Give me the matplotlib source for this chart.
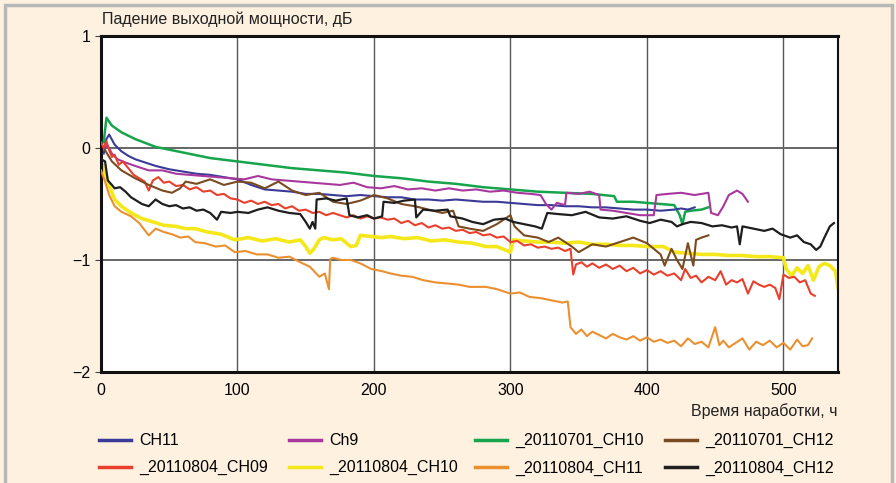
import matplotlib
matplotlib.use("Agg")
import matplotlib.pyplot as plt
from matplotlib.patches import Rectangle

plt.rcParams['font.family'] = ['Liberation Sans', 'DejaVu Sans']

# operating time (h) and output power drop (dB)
ch11_x = [2, 4, 6, 10, 15, 20, 25, 30, 40, 50, 60, 70, 80, 90, 100, 110, 120, 130, 140,
          150, 160, 170, 180, 190, 200, 210, 220, 230, 240, 250, 260, 270, 280, 290, 300,
          310, 320, 330, 340, 350, 360, 370, 380, 390, 400, 410, 420, 425, 430, 435]
ch11_y = [-0.05, 0.08, 0.12, 0.03, -0.03, -0.07, -0.1, -0.12, -0.16, -0.19, -0.21, -0.23,
          -0.24, -0.26, -0.28, -0.33, -0.37, -0.38, -0.39, -0.41, -0.41, -0.42, -0.43, -0.42,
          -0.43, -0.44, -0.44, -0.46, -0.46, -0.47, -0.46, -0.47, -0.48, -0.48, -0.49, -0.5,
          -0.51, -0.51, -0.52, -0.52, -0.53, -0.53, -0.54, -0.55, -0.55, -0.56, -0.55, -0.54,
          -0.55, -0.53]

ch9_x = [2, 5, 8, 12, 18, 25, 35, 45, 55, 65, 75, 85, 95, 105, 115, 125, 135, 145, 155,
         165, 175, 185, 195, 205, 215, 225, 235, 245, 255, 265, 275, 285, 295, 305, 315,
         322, 326, 330, 334, 340, 341, 350, 358, 365, 366, 375, 385, 395, 405, 407, 415,
         425, 435, 445, 447, 452, 456, 460, 466, 470, 474]
ch9_y = [0.0, 0.02, -0.05, -0.1, -0.13, -0.16, -0.2, -0.2, -0.23, -0.24, -0.25, -0.26,
         -0.27, -0.28, -0.25, -0.28, -0.29, -0.3, -0.31, -0.32, -0.33, -0.31, -0.35, -0.36,
         -0.34, -0.37, -0.36, -0.38, -0.36, -0.38, -0.37, -0.39, -0.38, -0.4, -0.41, -0.42,
         -0.5, -0.55, -0.49, -0.51, -0.4, -0.41, -0.39, -0.42, -0.55, -0.56, -0.58, -0.6,
         -0.6, -0.42, -0.41, -0.4, -0.42, -0.4, -0.58, -0.6, -0.52, -0.42, -0.38, -0.41, -0.48]

g0701_10_x = [2, 4, 8, 15, 25, 40, 60, 80, 100, 120, 140, 160, 180, 200, 220, 240, 260,
              280, 300, 320, 340, 360, 376, 378, 390, 400, 410, 420, 424, 426, 428, 432,
              440, 445]
g0701_10_y = [0.05, 0.27, 0.2, 0.14, 0.08, 0.01, -0.04, -0.09, -0.12, -0.15, -0.18, -0.2,
              -0.22, -0.25, -0.27, -0.3, -0.32, -0.35, -0.37, -0.39, -0.4, -0.41, -0.43,
              -0.48, -0.48, -0.49, -0.5, -0.51, -0.6, -0.68, -0.57, -0.56, -0.55, -0.53]

b0701_12_x = [3, 8, 15, 25, 35, 45, 52, 58, 62, 70, 80, 90, 100, 110, 120, 130, 140, 150,
              160, 170, 180, 190, 200, 210, 220, 230, 240, 250, 258, 262, 270, 280, 290,
              300, 303, 310, 320, 328, 335, 345, 350, 360, 370, 380, 390, 400, 410, 413,
              418, 422, 426, 430, 434, 436, 440, 445]
b0701_12_y = [-0.02, -0.12, -0.2, -0.27, -0.33, -0.38, -0.4, -0.36, -0.3, -0.32, -0.28,
              -0.33, -0.3, -0.31, -0.36, -0.3, -0.38, -0.42, -0.4, -0.48, -0.5, -0.47,
              -0.42, -0.45, -0.5, -0.52, -0.55, -0.58, -0.56, -0.7, -0.72, -0.74, -0.68,
              -0.6, -0.7, -0.78, -0.8, -0.84, -0.8, -0.88, -0.93, -0.86, -0.88, -0.84, -0.8,
              -0.85, -0.95, -1.05, -0.9, -1.0, -1.08, -0.85, -1.05, -0.82, -0.8, -0.78]

r0804_09_x = [0, 2, 4, 6, 8, 10, 13, 16, 20, 24, 28, 32, 35, 38, 42, 46, 50, 55, 60, 65,
              70, 75, 80, 85, 90, 95, 100, 105, 110, 115, 120, 125, 130, 135, 140, 145,
              150, 155, 160, 165, 170, 175, 180, 185, 190, 195, 200, 205, 210, 215, 220,
              225, 230, 235, 240, 245, 250, 255, 260, 265, 270, 275, 280, 285, 290, 295,
              300, 305, 310, 315, 320, 325, 330, 335, 340, 344, 346, 348, 352, 356, 360,
              365, 370, 375, 380, 385, 390, 395, 400, 405, 410, 415, 420, 425, 428, 432,
              436, 440, 445, 450, 454, 458, 462, 466, 470, 474, 478, 482, 486, 490, 494,
              497, 500, 504, 508, 512, 516, 520, 523]
r0804_09_y = [0.05, 0.0, 0.06, -0.02, -0.08, -0.06, -0.15, -0.12, -0.18, -0.24, -0.27,
              -0.3, -0.38, -0.29, -0.26, -0.31, -0.3, -0.34, -0.33, -0.37, -0.35, -0.39,
              -0.38, -0.42, -0.41, -0.45, -0.46, -0.49, -0.47, -0.5, -0.48, -0.51, -0.5,
              -0.54, -0.52, -0.56, -0.55, -0.58, -0.57, -0.6, -0.58, -0.6, -0.62, -0.6,
              -0.63, -0.61, -0.63, -0.62, -0.64, -0.63, -0.67, -0.65, -0.69, -0.67, -0.71,
              -0.69, -0.72, -0.71, -0.74, -0.73, -0.76, -0.75, -0.78, -0.77, -0.8, -0.79,
              -0.84, -0.83, -0.87, -0.86, -0.89, -0.88, -0.9, -0.89, -0.92, -0.9, -1.13,
              -1.04, -1.02, -1.06, -1.03, -1.07, -1.04, -1.08, -1.05, -1.1, -1.07, -1.12,
              -1.09, -1.13, -1.1, -1.14, -1.12, -1.18, -1.08, -1.16, -1.14, -1.2, -1.15,
              -1.18, -1.1, -1.22, -1.18, -1.2, -1.17, -1.3, -1.19, -1.22, -1.24, -1.22,
              -1.25, -1.35, -1.13, -1.16, -1.15, -1.2, -1.18, -1.3, -1.32]

y0804_10_x = [0, 3, 6, 10, 15, 22, 30, 38, 46, 55, 62, 69, 78, 88, 98, 108, 118, 128, 138,
              146, 150, 153, 156, 160, 163, 170, 176, 183, 187, 190, 198, 206, 212, 222,
              232, 242, 252, 262, 272, 282, 290, 296, 300, 302, 310, 320, 330, 340, 350,
              360, 370, 380, 390, 400, 412, 420, 430, 440, 450, 460, 470, 480, 490, 500,
              502, 506, 510, 514, 518, 522, 526, 530, 534, 538, 540]
y0804_10_y = [-0.1, -0.22, -0.33, -0.46, -0.52, -0.58, -0.63, -0.66, -0.69, -0.7, -0.72,
              -0.72, -0.75, -0.77, -0.82, -0.8, -0.83, -0.81, -0.84, -0.82, -0.88, -0.94,
              -0.9, -0.82, -0.8, -0.82, -0.81, -0.88, -0.87, -0.78, -0.79, -0.8, -0.79,
              -0.81, -0.8, -0.83, -0.82, -0.84, -0.85, -0.88, -0.88, -0.91, -0.93, -0.82,
              -0.83, -0.84, -0.84, -0.85, -0.84, -0.86, -0.86, -0.87, -0.87, -0.88, -0.88,
              -0.93, -0.94, -0.95, -0.95, -0.96, -0.96, -0.97, -0.97, -0.98, -1.08, -1.14,
              -1.07, -1.12, -1.05, -1.18, -1.06, -1.03, -1.05, -1.1, -1.25]

o0804_11_x = [0, 3, 6, 10, 15, 22, 28, 35, 40, 46, 52, 58, 64, 69, 76, 84, 91, 98, 106,
              114, 122, 130, 138, 146, 153, 160, 164, 167, 168, 170, 176, 183, 190, 198,
              206, 212, 220, 228, 236, 245, 254, 262, 270, 282, 290, 300, 307, 314, 322,
              330, 338, 342, 344, 348, 352, 356, 360, 365, 370, 375, 380, 385, 390, 395,
              400, 405, 410, 415, 420, 425, 430, 435, 440, 445, 450, 453, 456, 460, 465,
              470, 475, 480, 485, 490, 495, 500, 505, 510, 514, 518, 521]
o0804_11_y = [-0.2, -0.3, -0.42, -0.52, -0.57, -0.61, -0.67, -0.78, -0.72, -0.75, -0.77,
              -0.8, -0.79, -0.84, -0.85, -0.88, -0.87, -0.93, -0.92, -0.95, -0.95, -0.98,
              -0.97, -1.02, -1.06, -1.15, -1.12, -1.26, -0.99, -0.98, -1.0, -1.0, -1.03,
              -1.08, -1.1, -1.12, -1.14, -1.15, -1.18, -1.2, -1.21, -1.22, -1.24, -1.24,
              -1.26, -1.3, -1.29, -1.33, -1.34, -1.36, -1.38, -1.37, -1.6, -1.66, -1.62,
              -1.68, -1.64, -1.67, -1.7, -1.66, -1.69, -1.71, -1.68, -1.72, -1.69, -1.73,
              -1.71, -1.74, -1.72, -1.77, -1.7, -1.75, -1.73, -1.78, -1.6, -1.76, -1.72,
              -1.78, -1.74, -1.7, -1.8, -1.73, -1.76, -1.72, -1.78, -1.74, -1.8, -1.71,
              -1.77, -1.76, -1.7]

k0804_12_x = [0, 3, 5, 8, 10, 14, 18, 22, 26, 30, 35, 40, 45, 50, 55, 60, 65, 70, 75, 80,
              85, 88, 95, 100, 108, 115, 122, 130, 138, 146, 150, 153, 155, 157, 158, 165,
              172, 180, 182, 188, 195, 200, 206, 207, 215, 222, 230, 231, 236, 245, 254,
              256, 265, 272, 280, 288, 296, 302, 310, 318, 323, 327, 335, 345, 355, 365,
              375, 385, 395, 402, 410, 418, 422, 426, 432, 440, 448, 455, 462, 466, 468,
              470, 478, 486, 492, 498, 505, 510, 515, 520, 524, 527, 530, 534, 537]
k0804_12_y = [-0.1, -0.12, -0.29, -0.33, -0.36, -0.35, -0.39, -0.44, -0.47, -0.5, -0.52,
              -0.46, -0.5, -0.52, -0.51, -0.54, -0.53, -0.56, -0.55, -0.58, -0.64, -0.57,
              -0.58, -0.57, -0.58, -0.55, -0.53, -0.56, -0.58, -0.59, -0.66, -0.72, -0.66,
              -0.72, -0.46, -0.45, -0.47, -0.45, -0.6, -0.62, -0.6, -0.63, -0.61, -0.48,
              -0.49, -0.47, -0.46, -0.62, -0.55, -0.56, -0.55, -0.61, -0.63, -0.66, -0.68,
              -0.64, -0.63, -0.66, -0.68, -0.7, -0.72, -0.58, -0.59, -0.6, -0.57, -0.62,
              -0.63, -0.61, -0.65, -0.67, -0.64, -0.66, -0.7, -0.68, -0.66, -0.67, -0.7,
              -0.69, -0.71, -0.7, -0.86, -0.7, -0.72, -0.74, -0.72, -0.77, -0.8, -0.78,
              -0.84, -0.86, -0.91, -0.88, -0.8, -0.7, -0.67]

series = [
    ("CH11", ch11_x, ch11_y, "#3a3a98", 1.5),
    ("Ch9", ch9_x, ch9_y, "#a8389e", 1.5),
    ("_20110701_CH10", g0701_10_x, g0701_10_y, "#16a44c", 1.8),
    ("_20110701_CH12", b0701_12_x, b0701_12_y, "#7a4a20", 1.5),
    ("_20110804_CH09", r0804_09_x, r0804_09_y, "#e8402c", 1.5),
    ("_20110804_CH10", y0804_10_x, y0804_10_y, "#f5e81a", 2.6),
    ("_20110804_CH11", o0804_11_x, o0804_11_y, "#ea9030", 1.5),
    ("_20110804_CH12", k0804_12_x, k0804_12_y, "#1e1e1e", 1.6),
]

fig = plt.figure(figsize=(8.96, 4.83), dpi=100, facecolor="#fef1e0")
fig.patches.append(Rectangle((0.006, -0.01), 0.99, 1.0, transform=fig.transFigure,
                             fill=False, edgecolor="#b8b8b8", lw=2.5))
ax = fig.add_axes([0.1127, 0.2298, 0.8226, 0.6957])
ax.set_facecolor("white")

lines = {}
zorders = [4, 4, 3, 5, 4, 2, 4, 6]
for (name, xs, ys, col, lw), z in zip(series, zorders):
    lines[name], = ax.plot(xs, ys, color=col, lw=lw, label=name, zorder=z)

ax.set_xlim(0, 540)
ax.set_ylim(-2, 1)
ax.set_xticks([0, 100, 200, 300, 400, 500])
ax.set_yticks([1, 0, -1, -2])
ax.set_yticklabels(["1", "0", "\u22121", "\u22122"])
ax.tick_params(axis="both", labelsize=11.5, length=4, width=0.8, color="#444444")
ax.tick_params(axis="x", length=0, pad=8)
ax.grid(axis="x", color="#555555", lw=1)
ax.grid(axis="y", color="#666666", lw=1.4)
ax.set_axisbelow(True)
for sp in ax.spines.values():
    sp.set_linewidth(2.2)
    sp.set_color("#111111")
ax.spines["right"].set_linewidth(1.5)

fig.text(0.114, 0.945, "Падение выходной мощности, дБ", fontsize=11.5, ha="left",
         va="bottom", color="#222222")
fig.text(0.935, 0.148, "Время наработки, ч", fontsize=11.5, ha="right", va="center",
         color="#222222")

# legend: four columns, two rows, each column placed where it sits in the picture
columns = [["CH11", "_20110804_CH09"], ["Ch9", "_20110804_CH10"],
           ["_20110701_CH10", "_20110804_CH11"], ["_20110701_CH12", "_20110804_CH12"]]
col_x = [0.111, 0.323, 0.53, 0.742]
for names, cx in zip(columns, col_x):
    leg = fig.legend([lines[n] for n in names], names, loc="upper left",
                     bbox_to_anchor=(cx, 0.103), frameon=False, fontsize=11.5,
                     handlelength=2.0, handletextpad=0.5, labelspacing=0.75,
                     borderpad=0.0, borderaxespad=0.0)
    for h in leg.get_lines():
        h.set_linewidth(2.5)

fig.savefig("out.png", dpi=100, facecolor=fig.get_facecolor())
